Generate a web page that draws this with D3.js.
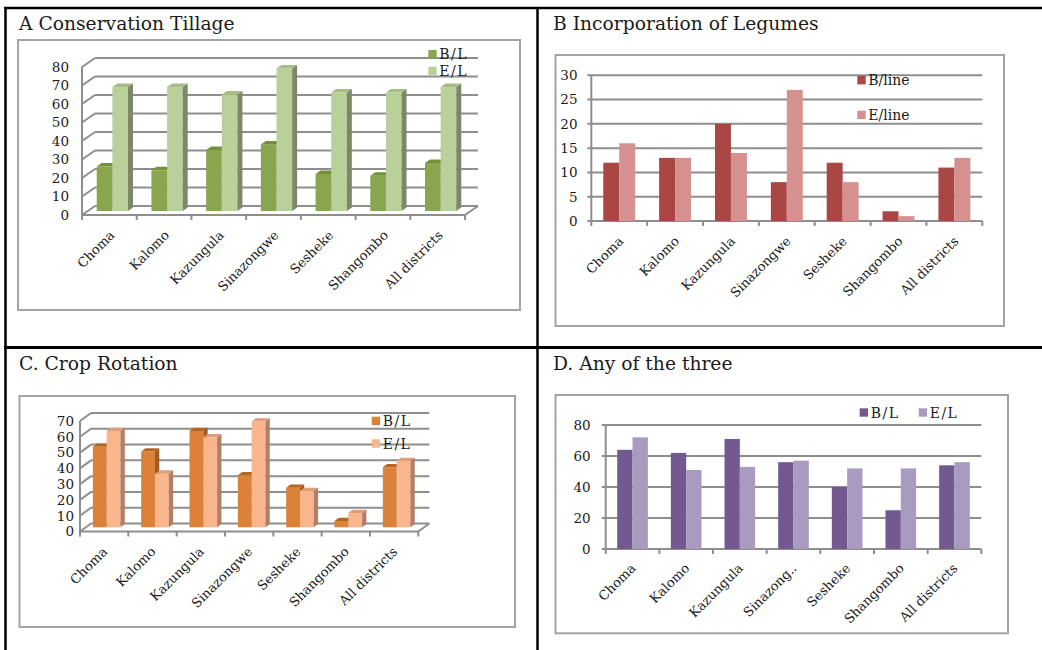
<!DOCTYPE html>
<html>
<head>
<meta charset="utf-8">
<script src="https://cdn.jsdelivr.net/npm/d3@7"></script>
<style>
  html, body { margin: 0; padding: 0; background: #fff; }
  svg { display: block; }
  text { font-family: "DejaVu Serif", serif; fill: #1a1a1a; }
</style>
</head>
<body>
<svg id="fig" width="1042" height="650"></svg>
<script>
// ---- data ----
const districts = ["Choma", "Kalomo", "Kazungula", "Sinazongwe", "Sesheke", "Shangombo", "All districts"];
const districtLabelsShort = ["Choma", "Kalomo", "Kazungula", "Sinazong..", "Sesheke", "Shangombo", "All districts"];

const tillageBL = [24, 22, 33, 36, 20, 19, 26];
const tillageEL = [67, 67, 63, 77, 64, 64, 67];
const tillageTicks = [0, 10, 20, 30, 40, 50, 60, 70, 80];

const legumesBL = [12, 13, 20, 8, 12, 2, 11];
const legumesEL = [16, 13, 14, 27, 8, 1, 13];
const legumesTicks = [0, 5, 10, 15, 20, 25, 30];

const rotationBL = [51, 48, 61, 33, 25, 4, 38];
const rotationEL = [61, 34, 57, 67, 23, 9, 42];
const rotationTicks = [0, 10, 20, 30, 40, 50, 60, 70];

const anyBL = [64, 62, 71, 56, 40, 25, 54];
const anyEL = [72, 51, 53, 57, 52, 52, 56];
const anyTicks = [0, 20, 40, 60, 80];

const svg = d3.select("#fig");
const GRID = "#8e8e8e";

// ---- table rules ----
const rules = svg.append("g").attr("stroke", "#000");
rules.append("line").attr("x1", 4).attr("x2", 1042).attr("y1", 8).attr("y2", 8).attr("stroke-width", 2.5);
rules.append("line").attr("x1", 5.5).attr("x2", 5.5).attr("y1", 7).attr("y2", 650).attr("stroke-width", 2.5);
rules.append("line").attr("x1", 537.5).attr("x2", 537.5).attr("y1", 7).attr("y2", 650).attr("stroke-width", 2.5);
rules.append("line").attr("x1", 4).attr("x2", 1042).attr("y1", 347.5).attr("y2", 347.5).attr("stroke-width", 3);

function title(x, y, t) {
  svg.append("text").attr("x", x).attr("y", y).attr("font-size", 18.7).text(t);
}
function frame(x, y, w, h) {
  svg.append("rect").attr("x", x).attr("y", y).attr("width", w).attr("height", h)
    .attr("fill", "#fff").attr("stroke", "#a3a3a3").attr("stroke-width", 2);
}
function legend(items) {
  const g = svg.append("g");
  items.forEach(it => {
    g.append("rect").attr("x", it.x).attr("y", it.y - 4.2).attr("width", 8.4).attr("height", 8.4).attr("fill", it.color);
    g.append("text").attr("x", it.x + 11).attr("y", it.y).attr("dy", "0.36em")
      .attr("font-size", 14).attr("letter-spacing", it.ls || 0).text(it.label);
  });
}
function catLabels(g, x, labels, y0, ox, oy) {
  labels.forEach((d, i) => {
    const cx = x(districts[i]) + x.bandwidth() / 2 + ox;
    g.append("text").attr("font-size", 13).attr("text-anchor", "end")
      .attr("transform", `translate(${cx},${y0 + oy}) rotate(-45)`).text(d);
  });
}

// ---- flat clustered columns ----
function flatPanel(o) {
  const g = svg.append("g");
  const x = d3.scaleBand().domain(districts).range([o.x0, o.x1]).padding(0);
  const cw = x.bandwidth();
  const inner = d3.scaleBand().domain(["BL", "EL"])
    .range([cw * 0.75 / 3.5, cw * 2.75 / 3.5]).padding(0);
  const y = d3.scaleLinear().domain([0, d3.max(o.ticks)]).range([o.y0, o.ytop]);

  g.append("g").selectAll("line").data(o.ticks).join("line")
    .attr("x1", o.x0 - 4).attr("x2", o.x1).attr("y1", d => y(d)).attr("y2", d => y(d))
    .attr("stroke", GRID).attr("stroke-width", 2);
  g.append("line").attr("x1", o.x0).attr("x2", o.x0).attr("y1", o.ytop).attr("y2", o.y0)
    .attr("stroke", GRID).attr("stroke-width", 2);
  g.append("g").selectAll("line").data(d3.range(districts.length + 1)).join("line")
    .attr("x1", i => o.x0 + i * cw).attr("x2", i => o.x0 + i * cw)
    .attr("y1", o.y0).attr("y2", o.y0 + 5).attr("stroke", GRID).attr("stroke-width", 2);

  const yAxis = d3.axisLeft(y).tickValues(o.ticks).tickSize(0).tickPadding(0);
  const ag = g.append("g").attr("transform", `translate(${o.labelRight},0)`).call(yAxis);
  ag.select(".domain").remove();
  ag.selectAll("text").attr("font-size", 13.5).attr("font-family", "DejaVu Serif").attr("fill", "#1a1a1a");

  const series = [{ key: "BL", vals: o.bl, color: o.colors[0] }, { key: "EL", vals: o.el, color: o.colors[1] }];
  series.forEach(s => {
    g.append("g").selectAll("rect").data(s.vals).join("rect")
      .attr("x", (d, i) => x(districts[i]) + inner(s.key))
      .attr("width", inner.bandwidth())
      .attr("y", d => y(d)).attr("height", d => o.y0 - y(d))
      .attr("fill", s.color);
  });
  catLabels(g, x, o.labels, o.y0, o.lox, o.loy);
}

// ---- 3-D clustered columns ----
function panel3d(o) {
  const g = svg.append("g");
  const x = d3.scaleBand().domain(districts).range([o.x0, o.x1]).padding(0);
  const cw = x.bandwidth();
  const inner = d3.scaleBand().domain(["BL", "EL"])
    .range([cw * 0.75 / 3.5, cw * 2.75 / 3.5]).padding(0);
  const y = d3.scaleLinear().domain([0, d3.max(o.ticks)]).range([o.y0, o.ytop]);
  const ytop = y(d3.max(o.ticks));

  // back wall gridlines
  g.append("g").selectAll("line").data(o.ticks).join("line")
    .attr("x1", o.x0 + o.dx).attr("x2", o.x1 + o.dx)
    .attr("y1", d => y(d) + o.dy).attr("y2", d => y(d) + o.dy)
    .attr("stroke", GRID).attr("stroke-width", 2);
  // side wall gridlines
  g.append("g").selectAll("line").data(o.ticks).join("line")
    .attr("x1", o.x0).attr("x2", o.x0 + o.dx)
    .attr("y1", d => y(d)).attr("y2", d => y(d) + o.dy)
    .attr("stroke", GRID).attr("stroke-width", 2);
  // vertical axis edge
  g.append("line").attr("x1", o.x0).attr("x2", o.x0).attr("y1", ytop).attr("y2", o.y0 + 5)
    .attr("stroke", GRID).attr("stroke-width", 2);
  // floor front and right edges
  g.append("line").attr("x1", o.x0).attr("x2", o.x1).attr("y1", o.y0).attr("y2", o.y0)
    .attr("stroke", GRID).attr("stroke-width", 2);
  g.append("line").attr("x1", o.x1).attr("x2", o.x1 + o.dx).attr("y1", o.y0).attr("y2", o.y0 + o.dy)
    .attr("stroke", GRID).attr("stroke-width", 2);
  g.append("g").selectAll("line").data(d3.range(districts.length + 1)).join("line")
    .attr("x1", i => o.x0 + i * cw).attr("x2", i => o.x0 + i * cw)
    .attr("y1", o.y0).attr("y2", o.y0 + 5).attr("stroke", GRID).attr("stroke-width", 2);

  const yAxis = d3.axisLeft(y).tickValues(o.ticks).tickSize(0).tickPadding(0);
  const ag = g.append("g").attr("transform", `translate(${o.labelRight},0)`).call(yAxis);
  ag.select(".domain").remove();
  ag.selectAll("text").attr("font-size", 13.5).attr("font-family", "DejaVu Serif").attr("fill", "#1a1a1a");

  const bw = inner.bandwidth();
  const bars = g.append("g");
  districts.forEach((dName, i) => {
    [{ key: "BL", v: o.bl[i], c: o.colors[0] }, { key: "EL", v: o.el[i], c: o.colors[1] }].forEach(s => {
      const bx = x(dName) + inner(s.key) + o.ox;
      const yb = o.y0 + o.oy;
      const yt = y(s.v) + o.oy;
      const p = o.depth;
      bars.append("rect").attr("x", bx).attr("y", yt).attr("width", bw).attr("height", yb - yt).attr("fill", s.c.front);
      bars.append("polygon").attr("points",
        [[bx, yt], [bx + bw, yt], [bx + bw + p[0], yt + p[1]], [bx + p[0], yt + p[1]]].join(" "))
        .attr("fill", s.c.top);
      bars.append("polygon").attr("points",
        [[bx + bw, yt], [bx + bw + p[0], yt + p[1]], [bx + bw + p[0], yb + p[1]], [bx + bw, yb]].join(" "))
        .attr("fill", s.c.side);
    });
  });
  catLabels(g, x, o.labels, o.y0, o.lox, o.loy);
}

// ---- A Conservation Tillage ----
title(19, 30, "A Conservation Tillage");
frame(18, 40, 502, 270);
panel3d({
  x0: 82, x1: 465, y0: 215, ytop: 67, dx: 13, dy: -9, ox: 3, oy: -4, depth: [5, -3.5],
  ticks: tillageTicks, bl: tillageBL, el: tillageEL, labels: districts, labelRight: 69, lox: 6, loy: 21,
  colors: [
    { front: "#89a54e", top: "#739039", side: "#6c8a3d" },
    { front: "#bad09b", top: "#a6be84", side: "#7d8868" }
  ]
});
legend([
  { x: 428.3, y: 54.2, color: "#89a54e", label: "B/L", ls: 1.5 },
  { x: 428.3, y: 70.9, color: "#bad09b", label: "E/L", ls: 1.5 }
]);

// ---- B Incorporation of Legumes ----
title(553, 30, "B Incorporation of Legumes");
frame(555.5, 55, 448.5, 271);
flatPanel({
  x0: 591.3, x1: 982.3, y0: 221, ytop: 75.3, ticks: legumesTicks,
  bl: legumesBL, el: legumesEL, labels: districts, labelRight: 577.5, lox: 5, loy: 21,
  colors: ["#aa4644", "#d4918f"]
});
legend([
  { x: 857.3, y: 80.2, color: "#aa4644", label: "B/line" },
  { x: 857.3, y: 114.9, color: "#d4918f", label: "E/line" }
]);

// ---- C. Crop Rotation ----
title(19, 370, "C. Crop Rotation");
frame(19.5, 396, 495.5, 231);
panel3d({
  x0: 80, x1: 418.3, y0: 531.5, ytop: 421, dx: 11, dy: -8, ox: 2.5, oy: -4.2, depth: [4.3, -3.3],
  ticks: rotationTicks, bl: rotationBL, el: rotationEL, labels: districts, labelRight: 74, lox: 4, loy: 21,
  colors: [
    { front: "#da823a", top: "#b4651f", side: "#a35a1e" },
    { front: "#f9b68d", top: "#dd9e78", side: "#b27e66" }
  ]
});
legend([
  { x: 371.7, y: 420.9, color: "#da823a", label: "B/L", ls: 1.5 },
  { x: 371.7, y: 443.5, color: "#f9b68d", label: "E/L", ls: 1.5 }
]);

// ---- D. Any of the three ----
title(553, 370, "D. Any of the three");
frame(555.5, 395, 452.5, 238.3);
flatPanel({
  x0: 605.7, x1: 981.3, y0: 549, ytop: 425, ticks: anyTicks,
  bl: anyBL, el: anyEL, labels: districtLabelsShort, labelRight: 590.7, lox: 4, loy: 20,
  colors: ["#725a91", "#a99bc0"]
});
legend([
  { x: 859.7, y: 412.5, color: "#725a91", label: "B/L", ls: 1.5 },
  { x: 918.7, y: 412.5, color: "#a99bc0", label: "E/L", ls: 1.5 }
]);
</script>
</body>
</html>
